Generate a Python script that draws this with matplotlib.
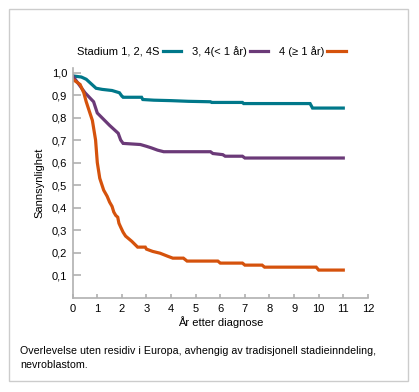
import matplotlib.pyplot as plt
from matplotlib.patches import Rectangle
from matplotlib.ticker import FuncFormatter

plt.rcParams["font.family"] = ["Liberation Sans", "DejaVu Sans"]

# survival curves (years, probability)
t_low = [0, 0.35, 0.55, 0.75, 0.95, 1.2, 1.6, 1.9, 2.0, 2.05, 2.8, 2.85, 3.3, 4.0, 4.7,
         5.6, 5.65, 6.9, 6.95, 9.65, 9.75, 11]
p_low = [0.985, 0.98, 0.97, 0.95, 0.93, 0.925, 0.92, 0.91, 0.895, 0.89, 0.89, 0.88,
         0.877, 0.875, 0.872, 0.87, 0.867, 0.867, 0.862, 0.862, 0.842, 0.842]

t_mid = [0, 0.1, 0.5, 0.85, 1.0, 1.5, 1.85, 1.95, 2.05, 2.75, 3.0, 3.2, 3.45, 3.7, 5.6,
         5.7, 6.1, 6.2, 6.9, 7.0, 11]
p_mid = [0.985, 0.97, 0.91, 0.87, 0.82, 0.765, 0.73, 0.70, 0.685, 0.68, 0.672, 0.665,
         0.655, 0.648, 0.648, 0.64, 0.635, 0.628, 0.628, 0.62, 0.62]

t_high = [0, 0.3, 0.45, 0.55, 0.7, 0.8, 0.93, 1.0, 1.1, 1.26, 1.4, 1.5, 1.6, 1.67, 1.75,
          1.83, 1.88, 1.95, 2.05, 2.15, 2.4, 2.64, 2.95, 3.0, 3.25, 3.55, 3.85, 4.07, 4.5,
          4.65, 5.9, 6.0, 6.9, 7.0, 7.7, 7.8, 9.9, 10.0, 11]
p_high = [0.97, 0.947, 0.91, 0.87, 0.82, 0.787, 0.70, 0.60, 0.53, 0.477, 0.45, 0.424,
          0.405, 0.38, 0.365, 0.357, 0.33, 0.313, 0.29, 0.273, 0.25, 0.224, 0.224, 0.215,
          0.205, 0.197, 0.184, 0.175, 0.175, 0.162, 0.162, 0.153, 0.153, 0.144, 0.144,
          0.135, 0.135, 0.122, 0.122]

labels = ["Stadium 1, 2, 4S", "3, 4(< 1 år)", "4 (≥ 1 år)"]
colors = ["#00788a", "#6b3a78", "#d5520c"]

x_ticks = list(range(0, 13))
y_ticks = [0.1, 0.2, 0.3, 0.4, 0.5, 0.6, 0.7, 0.8, 0.9, 1.0]

fig = plt.figure(figsize=(4.19, 3.92), dpi=100)
fig.patch.set_facecolor("white")

# light frame around the whole figure
fig.patches.append(Rectangle((9 / 419, 11 / 392), 399 / 419, 372 / 392,
                             transform=fig.transFigure, fill=False,
                             edgecolor="#cccccc", linewidth=1))

ax = fig.add_axes([0.1735, 0.241, 0.7045, 0.5855])
series = [(t_low, p_low), (t_mid, p_mid), (t_high, p_high)]
for (t, p), lab, col in zip(series, labels, colors):
    ax.plot(t, p, color=col, linewidth=2.3, label=lab, solid_joinstyle="miter")

ax.set_xlim(0, 12)
ax.set_ylim(0, 1.02)
ax.set_xticks(x_ticks)
ax.set_yticks(y_ticks)
ax.yaxis.set_major_formatter(FuncFormatter(lambda v, _: f"{v:.1f}".replace(".", ",")))

for side in ["top", "right"]:
    ax.spines[side].set_visible(False)
for side in ["left", "bottom"]:
    ax.spines[side].set_color("#b0b0b0")
    ax.spines[side].set_linewidth(1.2)
ax.tick_params(axis="y", direction="in", length=6, width=1.2, color="#b0b0b0",
               labelsize=8, pad=4)
ax.tick_params(axis="x", direction="in", length=3, width=1.2, color="#b0b0b0",
               labelsize=8, pad=5)

ax.set_xlabel("År etter diagnose", fontsize=8, labelpad=1)
ax.set_ylabel("Sannsynlighet", fontsize=8, labelpad=5)

ax.legend(loc="lower center", bbox_to_anchor=(0.47, 1.03), ncol=3, frameon=False,
          markerfirst=False, fontsize=8, handlelength=1.65, handletextpad=0.3,
          columnspacing=0.95, borderaxespad=0)

fig.text(20 / 419, 1 - 346 / 392,
         "Overlevelse uten residiv i Europa, avhengig av tradisjonell stadieinndeling,\n"
         "nevroblastom.", fontsize=7.7, va="top", ha="left", linespacing=1.45)

fig.savefig("out.png", dpi=100, facecolor="white")
